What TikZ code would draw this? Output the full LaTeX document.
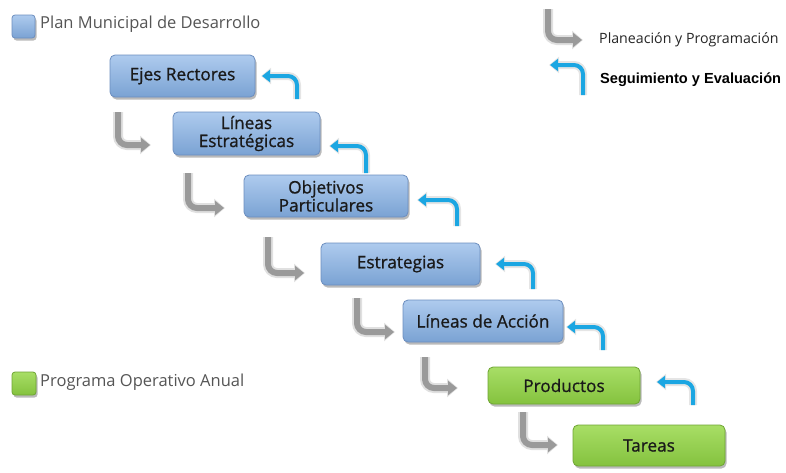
\documentclass[tikz,border=0pt]{standalone}
\usepackage{fontspec}
\setmainfont{Open Sans}
\newfontfamily\boxfont{Open Sans}[FakeBold=0.9]
\newfontfamily\arialfont{Liberation Sans}
\usetikzlibrary{arrows.meta,shadows}
\definecolor{boxbluetop}{HTML}{AECBEE}
\definecolor{boxbluebot}{HTML}{7AA2D3}
\definecolor{edgeblue}{HTML}{6C8EBF}
\definecolor{boxgreentop}{HTML}{A8DE66}
\definecolor{boxgreenbot}{HTML}{84C23E}
\definecolor{edgegreen}{HTML}{6FA534}
\definecolor{fbblue}{HTML}{1BA6E2}
\definecolor{plgray}{HTML}{9A9A9A}
\definecolor{legtext}{HTML}{555555}
\definecolor{boxtext}{HTML}{1A1A1A}
\tikzset{
  stagebox/.style={rounded corners=5pt, draw=edgeblue, line width=0.8pt,
    top color=boxbluetop, bottom color=boxbluebot, text=boxtext,
    font=\boxfont\fontsize{17.2}{18}\selectfont, align=center, inner sep=0pt,
    drop shadow={shadow xshift=1.5pt, shadow yshift=-2.5pt, fill=black!45, opacity=0.6}},
  greenbox/.style={stagebox, draw=edgegreen, top color=boxgreentop, bottom color=boxgreenbot},
  planarrow/.style={draw=plgray, line width=6pt, rounded corners=9pt,
    -{Triangle[length=9pt,width=14pt]},
    preaction={draw=black!12, line width=10pt, -{Triangle[length=11pt,width=18pt]}, shorten >=-1pt}},
  fbarrow/.style={draw=fbblue, line width=4pt, rounded corners=9pt,
    -{Triangle[length=8pt,width=12pt]},
    preaction={draw=black!10, line width=8pt, -{Triangle[length=10pt,width=16pt]}, shorten >=-1pt}},
  legtextstyle/.style={anchor=west, text=legtext, font=\fontsize{16.5}{17}\selectfont, inner sep=0pt}
}
\begin{document}
\begin{tikzpicture}[x=1pt,y=-1pt]
\useasboundingbox (0,0) rectangle (786,472);
% legend
\node[stagebox, minimum width=23pt, minimum height=23pt, rounded corners=3pt] (legblue) at (23.5,26.5) {};
\node[legtextstyle] (legbluetext) at (40,24) {Plan Municipal de Desarrollo};
\node[greenbox, minimum width=24pt, minimum height=23pt, rounded corners=3pt] (leggreen) at (24,383.5) {};
\node[legtextstyle] (leggreentext) at (40,382) {Programa Operativo Anual};
% stage boxes
\node[stagebox, minimum width=145pt, minimum height=42pt] (ejes) at (182.5,76) {Ejes Rectores};
\node[stagebox, minimum width=147pt, minimum height=43pt] (lineas) at (246.5,133.5) {Líneas\\Estratégicas};
\node[stagebox, minimum width=164pt, minimum height=42pt] (objetivos) at (326,196) {Objetivos\\Particulares};
\node[stagebox, minimum width=159pt, minimum height=42pt] (estrategias) at (400.5,264) {Estrategias};
\node[stagebox, minimum width=160pt, minimum height=42pt] (accion) at (483,321) {Líneas de Acción};
\node[greenbox, minimum width=152pt, minimum height=37pt] (productos) at (564,385.5) {Productos};
\node[greenbox, minimum width=152pt, minimum height=41pt] (tareas) at (649,445.5) {Tareas};
% planning arrows (gray)
\coordinate (p1a) at (118,112); \coordinate (p1b) at (150,145);
\coordinate (p2a) at (188,173); \coordinate (p2b) at (224,208);
\coordinate (p3a) at (268,237); \coordinate (p3b) at (304,273);
\coordinate (p4a) at (357,298); \coordinate (p4b) at (394,332);
\coordinate (p5a) at (425,357); \coordinate (p5b) at (457,388);
\coordinate (p6a) at (523,412); \coordinate (p6b) at (557,445);
\coordinate (pla) at (548,9); \coordinate (plb) at (582,40);
\foreach \i in {1,2,3,4,5,6,l}{
  \draw[planarrow] (p\i a) |- (p\i b);
}
% feedback arrows (blue)
\coordinate (f1a) at (297,99); \coordinate (f1b) at (262,76);
\coordinate (f2a) at (366,173); \coordinate (f2b) at (330,146);
\coordinate (f3a) at (457,226); \coordinate (f3b) at (418,200);
\coordinate (f4a) at (533,289); \coordinate (f4b) at (496,264);
\coordinate (f5a) at (603,350); \coordinate (f5b) at (567,327);
\coordinate (f6a) at (693,405); \coordinate (f6b) at (657,382);
\coordinate (fla) at (583,95); \coordinate (flb) at (550,65);
\foreach \i in {1,2,3,4,5,6,l}{
  \draw[fbarrow] (f\i a) |- (f\i b);
}
% legend texts right
\node[anchor=west, text=black!85, font=\fontsize{14.2}{15}\selectfont, inner sep=0pt] (plantext) at (599,40) {Planeación y Programación};
\node[anchor=west, text=black, font=\arialfont\bfseries\fontsize{14.6}{15}\selectfont, inner sep=0pt] (fbtext) at (600,80) {Seguimiento y Evaluación};
\end{tikzpicture}
\end{document}
